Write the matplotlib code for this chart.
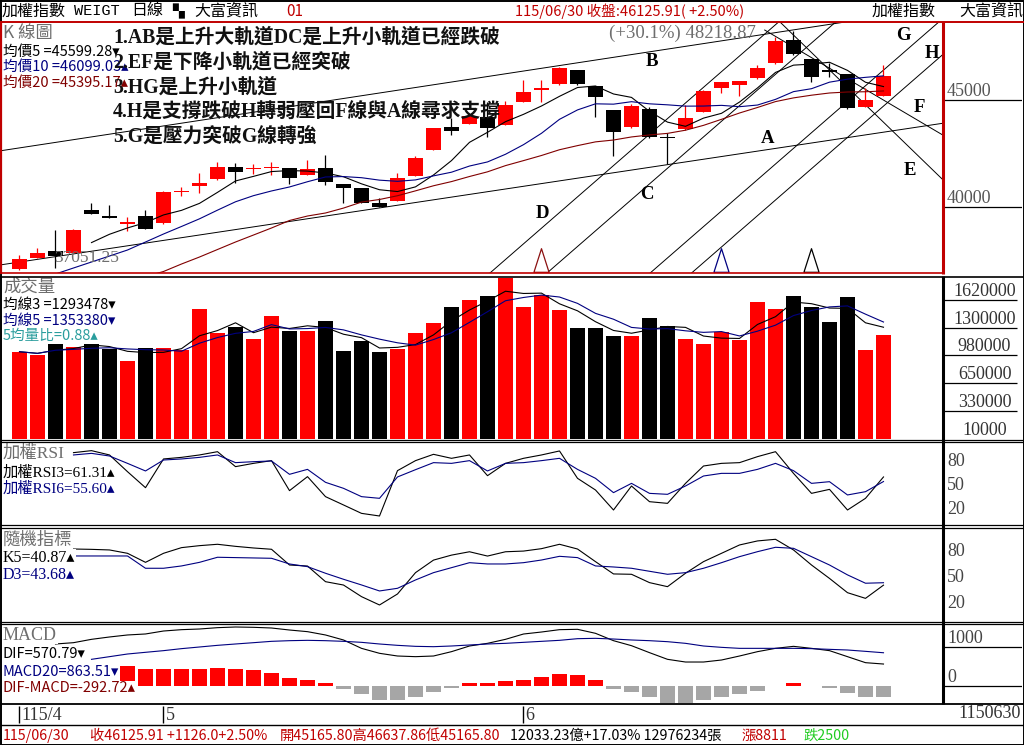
import numpy as np
import pandas as pd
import matplotlib
matplotlib.use("Agg")
import matplotlib.pyplot as plt
from matplotlib.path import Path
from matplotlib.transforms import blended_transform_factory

W, H = 1024, 745
CJK = ['Noto Sans CJK TC', 'DejaVu Sans']
SERIF = ['Liberation Serif', 'Noto Sans CJK TC', 'DejaVu Sans']
MONO = ['Liberation Mono', 'DejaVu Sans Mono']

RED = '#ff0000'
NAVY = '#000080'
MAROON = '#800000'
FRAME_RED = '#c00000'
GREY_TXT = '#6e6e6e'
HIST_GREY = '#a6a6a6'
TEAL = '#2a9d9d'

# ---------------- data ----------------
opens = [37090, 37631, 37944, 37864, 39860, 39518, 39191, 39579, 39238, 40700,
         40995, 41294, 41855, 41760, 41820, 41808, 41495, 41808, 41075, 40874,
         40201, 40280, 41448, 42664, 43752, 43878, 44220, 43832, 44921, 45490,
         45734, 46402, 45654, 44533, 43724, 44579, 43230, 43631, 44453, 45547,
         45701, 46014, 46715, 47804, 46902, 46330, 46215, 44659, 45165.80]
highs = [37757, 38070, 38925, 38950, 40201, 40093, 39518, 39860, 40760, 40949,
         41575, 42117, 42042, 42009, 42117, 41820, 42196, 42430, 41080, 40880,
         40406, 41575, 42383, 43700, 44145, 44280, 44921, 44953, 45935, 45935,
         46530, 46420, 45670, 44550, 44813, 44659, 43444, 44766, 45460, 45860,
         45900, 46636, 47930, 48218.87, 46920, 46743, 46230, 45547, 46637.86]
lows = [37051.25, 37600, 37135, 37850, 39650, 39490, 38892, 38950, 39220, 40514,
        40640, 41280, 41135, 41542, 41495, 41061, 41480, 41028, 40201, 40190,
        39980, 40270, 41440, 42650, 43364, 43860, 43257, 43820, 44900, 44921,
        45720, 45720, 44220, 42383, 43710, 43240, 42009, 43620, 44440, 45313,
        45187, 46000, 46700, 47120, 45855, 46089, 44600, 44650, 45165.80]
closes = [37556, 37836, 37710, 38925, 39659, 39500, 39313, 38958, 40715, 40730,
          41135, 41883, 41621, 41790, 41850, 41369, 41762, 41182, 40902, 40201,
          39986, 41341, 42276, 43678, 43565, 44252, 43678, 44766, 45388, 45520,
          46509, 45734, 45126, 43519, 44720, 43257, 43210, 44145, 45435, 45841,
          45888, 46509, 47771, 47136, 46089, 46310, 44612, 44999.91, 46125.91]
volumes = [1019000, 980800, 1108700, 1077300, 1108700, 1050600, 911100, 1065700, 1058700, 1039000,
           1515400, 1240000, 1309700, 1170300, 1434100, 1263200, 1263200, 1376000, 1027300, 1143500,
           1015700, 1050600, 1240000, 1352700, 1538700, 1620000, 1666500, 1879200, 1542200, 1678200,
           1507300, 1298100, 1298100, 1201700, 1201700, 1414300, 1321400, 1170300, 1112200, 1248100,
           1158700, 1600300, 1518900, 1670000, 1542200, 1367800, 1658400, 1039000, 1213300]
# moving-average values before enough history exists in the window
ma10_head = [36500, 36700, 36870, 37150, 37430, 37710, 37990, 38364, 38738]
ma20_head = [35300, 35500, 35700, 35900, 36100, 36300, 36500, 36750, 36986, 37336,
             37663, 38014, 38364, 38691, 39019, 39370, 39579, 39720, 39950]
rsi_start = 3
rsi3 = [91.7, 94.2, 88.8, 67.9, 47.9, 83.8, 85.8, 88.8, 92.9, 74.2, 78.3, 81.7, 44.2, 61.7,
        36.7, 26.3, 15.8, 12.5, 69.2, 81.7, 89.6, 84.6, 88.8, 62.9, 78.3, 84.6, 88.8, 93.8,
        59.6, 45.0, 20.0, 50.0, 30.4, 28.3, 53.3, 75.0, 78.3, 79.2, 86.7, 92.9, 65.8, 40.8,
        45.8, 20.0, 34.6, 61.31]
rsi6 = [88.8, 90.8, 87.5, 78.3, 68.8, 82.5, 83.8, 85.8, 88.8, 79.2, 80.4, 81.3, 64.6, 70.8,
        54.6, 47.1, 36.7, 34.6, 61.3, 70.4, 79.2, 78.3, 81.7, 68.8, 78.3, 79.2, 81.7, 84.6,
        70.8, 59.6, 41.7, 53.3, 40.8, 39.6, 50.0, 62.5, 65.8, 65.8, 70.8, 78.3, 69.2, 53.3,
        55.4, 38.8, 42.9, 55.60]
kd_start = 3
k5 = [82.9, 82.5, 81.8, 77.9, 67.4, 77.9, 84.5, 86.8, 88.4, 86.0, 84.1, 82.6, 64.3, 63.1,
      44.9, 41.0, 27.5, 17.8, 30.6, 55.4, 70.0, 75.8, 79.7, 74.7, 79.7, 80.5, 83.3, 88.4,
      82.9, 68.2, 53.9, 53.5, 43.8, 39.1, 54.7, 68.2, 77.9, 87.6, 92.3, 94.2, 81.8, 64.3,
      48.7, 32.1, 25.5, 40.87]
d3 = [74.8, 74.8, 74.8, 74.8, 60.5, 60.5, 63.2, 67.4, 73.3, 72.9, 72.5, 72.1, 65.5, 62.4,
      54.7, 47.7, 41.1, 34.1, 37.2, 46.9, 55.4, 61.2, 67.0, 65.5, 65.5, 67.0, 70.1, 74.4,
      72.9, 63.2, 62.0, 60.5, 57.0, 53.5, 55.4, 60.5, 67.0, 74.0, 79.8, 84.9, 83.7, 74.0,
      64.3, 52.8, 43.1, 43.68]
dif_start = 2
dif = [1091, 1125, 1212, 1273, 1325, 1351, 1428, 1463, 1480, 1515, 1532, 1524, 1506, 1454,
       1411, 1325, 1195, 978, 849, 779, 762, 779, 892, 1039, 1108, 1212, 1350, 1402, 1463,
       1472, 1368, 1177, 1047, 866, 693, 623, 623, 675, 779, 892, 978, 1030, 978, 918, 762,
       606, 570.79]
macd_start = 4
macd20 = [693, 762, 831, 875, 918, 970, 1013, 1056, 1091, 1125, 1160, 1177, 1186, 1177,
          1160, 1134, 1091, 1056, 1030, 1021, 1039, 1065, 1091, 1108, 1134, 1160, 1186, 1229,
          1238, 1220, 1195, 1177, 1151, 1108, 1039, 1004, 978, 978, 978, 978, 970, 952, 935,
          900, 863.51]
osc_start = 6
osc = [520, 442, 442, 442, 442, 459, 442, 416, 346, 199, 156, 69, -69, -208, -364, -364,
       -277, -147, -61, 69, 69, 130, 156, 225, 312, 286, 156, -69, -147, -277, -433, -433,
       -364, -277, -208, -121, 0, 69, 0, -43, -190, -294, -292.72]

month_ticks = [0, 8, 28]
month_labels = ['115/4', '5', '6']
signal_days = [29, 39, 44]
signal_colors = ['#8b1010', NAVY, 'black']
price_ticks = [45000, 40000]
vol_ticks = [1620000, 1300000, 980000, 650000, 330000]
vol_tick_labels = ['1620000', '1300000', '980000', '650000', '330000', '10000']
osc_ticks = [80, 50, 20]
macd_ticks = [1000, 0]

# hand-drawn trend lines (bar index, price) endpoints
trend_lines = [
    ((-2.2, 37150), (52.3, 44040)),   # A
    ((-2.2, 42480), (52.3, 49470)),   # B
    ((25.5, 36450), (43.0, 49250)),   # D
    ((28.67, 36450), (46.17, 49250)), # C
    ((34.4, 36450), (51.9, 49250)),   # G
    ((36.7, 36450), (54.2, 49250)),   # H
    ((41.9, 48930), (51.5, 41110)),   # E
    ((41.4, 48270), (51.3, 43360)),   # F
]
line_letters = ['A', 'B', 'C', 'D', 'E', 'F', 'G', 'H']
letter_pos = [(41.58, 43224), (35.14, 46776), (34.86, 40561), (29.03, 39719),
              (49.47, 41729), (49.97, 44673), (49.08, 48037), (50.69, 47196)]

notes = ['1.AB是上升大軌道DC是上升小軌道已經跌破',
         '2.EF是下降小軌道已經突破',
         '3.HG是上升小軌道',
         '4.H是支撐跌破H轉弱壓回F線與A線尋求支撐',
         '5.G是壓力突破G線轉強']

# ---------------- derived ----------------
n = len(closes)
idx = np.arange(n)
cs = pd.Series(closes)
ma5 = cs.rolling(5).mean().to_numpy()
ma10 = cs.rolling(10).mean().to_numpy()
ma10[:len(ma10_head)] = ma10_head
ma20 = cs.rolling(20).mean().to_numpy()
ma20[:len(ma20_head)] = ma20_head
vs = pd.Series(volumes)
vma3 = vs.rolling(3, min_periods=1).mean().to_numpy()
vma5 = vs.rolling(5, min_periods=1).mean().to_numpy()
cols = [RED if c >= o else 'black' for o, c in zip(opens, closes)]

# ---------------- figure ----------------
fig = plt.figure(figsize=(W / 100, H / 100), dpi=100)
fig.patch.set_facecolor('white')


def px_axes(x0, y0, x1, y1, z=1):
    ax = fig.add_axes([x0 / W, 1 - y1 / H, (x1 - x0) / W, (y1 - y0) / H])
    ax.set_zorder(z)
    ax.axis('off')
    ax.patch.set_alpha(0)
    return ax


XL = ((2 - 19.5) / 18, (943 - 19.5) / 18)
BW = 15 / 18

# K panel
kax = px_axes(2, 22, 943, 273)
kax.set_xlim(*XL)
kax.set_ylim(36916, 48645)
for (p0, p1) in trend_lines:
    kax.plot([p0[0], p1[0]], [p0[1], p1[1]], color='black', lw=0.7, zorder=1)
kax.vlines(idx, lows, highs, colors=cols, lw=0.9, zorder=3)
lo = np.minimum(opens, closes)
hgt = np.maximum(np.abs(np.array(closes) - np.array(opens)), 70)
kax.bar(idx, hgt, bottom=lo, width=BW, color=cols, lw=0, zorder=4)
kax.plot(idx, ma5, color='black', lw=0.8, zorder=5)
kax.plot(idx, ma10, color=NAVY, lw=0.8, zorder=5)
kax.plot(idx, ma20, color=MAROON, lw=0.8, zorder=5)
for lt, (li, lp) in zip(line_letters, letter_pos):
    kax.text(li, lp, lt, family=SERIF, weight='bold', size=13.5, ha='center', va='center', zorder=6)
imax = int(np.argmax(highs))
imin = int(np.argmin(lows))
kax.text(imax - 2.1, highs[imax] - 90, '(+%.1f%%) %.2f' % ((highs[imax] / lows[imin] - 1) * 100, highs[imax]),
         family=SERIF, size=13.5, color=GREY_TXT, ha='right', va='center', zorder=6)
kax.text(imin + 1.9, lows[imin] + 560, '%.2f' % lows[imin], family=SERIF, size=12.5,
         color=GREY_TXT, ha='left', va='center', zorder=6)
tri = Path([(-0.32, -0.5), (0.0, 0.5), (0.32, -0.5), (-0.32, -0.5)],
           [Path.MOVETO, Path.LINETO, Path.LINETO, Path.CLOSEPOLY])
bt = blended_transform_factory(kax.transData, kax.transAxes)
for d, c in zip(signal_days, signal_colors):
    kax.plot([d], [0.05], marker=tri, ms=17, mfc='white', mec=c, mew=0.9,
             transform=bt, zorder=6, clip_on=False)

# volume panel
vax = px_axes(2, 276, 943, 440)
vax.set_xlim(*XL)
vax.set_ylim(-7038, 1898970)
vax.bar(idx, volumes, width=BW, color=cols, lw=0)
vax.plot(idx, vma3, color='black', lw=0.8)
vax.plot(idx, vma5, color=NAVY, lw=0.8)

# RSI panel
rax = px_axes(2, 443, 943, 525)
rax.set_xlim(*XL)
rax.set_ylim(1.25, 103.75)
ri = np.arange(rsi_start, rsi_start + len(rsi3))
rax.plot(ri, rsi3, color='black', lw=0.8)
rax.plot(ri, rsi6, color=NAVY, lw=0.8)

# KD panel
dax = px_axes(2, 527, 943, 622)
dax.set_xlim(*XL)
dax.set_ylim(-2.0, 108.5)
ki = np.arange(kd_start, kd_start + len(k5))
dax.plot(ki, k5, color='black', lw=0.8)
dax.plot(ki, d3, color=NAVY, lw=0.8)

# MACD panel
max_ = px_axes(2, 624, 943, 703)
max_.set_xlim(*XL)
max_.set_ylim(-441, 1610)
oi = np.arange(osc_start, osc_start + len(osc))
max_.bar(oi, osc, width=BW * 0.98, color=[RED if v > 0 else HIST_GREY for v in osc], lw=0)
max_.plot(np.arange(dif_start, dif_start + len(dif)), dif, color='black', lw=0.8)
max_.plot(np.arange(macd_start, macd_start + len(macd20)), macd20, color=NAVY, lw=0.8)

# date axis row
tax = px_axes(2, 703, 943, 725)
tax.set_xlim(*XL)
tax.set_ylim(0, 1)
tax.vlines(month_ticks, 0.1, 0.85, color='black', lw=1)
for t, lab in zip(month_ticks, month_labels):
    tax.text(t + 0.12, 0.45, lab, family=SERIF, size=13, color='#333333', va='center', ha='left')

# right-hand scale areas
def right_axes(y0, y1, ylim):
    ax = px_axes(944, y0, 1022, y1, z=2)
    ax.set_xlim(0, 1)
    ax.set_ylim(*ylim)
    return ax

rk = right_axes(22, 273, (36916, 48645))
for v in price_ticks:
    rk.hlines(v, 0, 1, color='black', lw=0.9)
    rk.annotate(str(v), (0.04, v), xytext=(0, 0), textcoords='offset points', family=SERIF,
                size=13, color='#555555', va='bottom', ha='left')
rv = right_axes(276, 440, (-7038, 1898970))
for v in vol_ticks:
    rv.hlines(v, 0, 0.94, color='black', lw=0.9)
for v, lab in zip(vol_ticks + [10000], vol_tick_labels):
    rv.annotate(lab, (0.52, v), xytext=(0, 0), textcoords='offset points', family=SERIF,
                size=13, color='#333333', va='bottom', ha='center')
rr = right_axes(443, 525, (1.25, 103.75))
for v in osc_ticks:
    rr.text(0.04, v, str(v), family=SERIF, size=13, color='#444444', va='center', ha='left')
rd = right_axes(527, 622, (-2.0, 108.5))
for v in osc_ticks:
    rd.text(0.04, v, str(v), family=SERIF, size=13, color='#444444', va='center', ha='left')
rm = right_axes(624, 703, (-441, 1610))
for v in macd_ticks:
    rm.hlines(v, 0, 1, color='black', lw=0.9)
    rm.annotate(str(v), (0.04, v), xytext=(0, 0), textcoords='offset points', family=SERIF,
                size=13, color='#444444', va='bottom', ha='left')

# ---------------- overlay: frames and texts (pixel coordinates) ----------------
ov = fig.add_axes([0, 0, 1, 1])
ov.set_xlim(0, W)
ov.set_ylim(H, 0)
ov.axis('off')
ov.patch.set_alpha(0)
ov.set_zorder(10)

LZ = 6
ov.plot([0.5, W - 0.5, W - 0.5, 0.5, 0.5], [0.5, 0.5, H - 0.5, H - 0.5, 0.5], color='black', lw=1.4, zorder=LZ)
ov.hlines(21.5, 0, W, color=FRAME_RED, lw=1.4, zorder=LZ)
ov.vlines(1.0, 22, 273.5, color=FRAME_RED, lw=1.6, zorder=LZ)
ov.vlines(942.5, 22, 273.5, color=FRAME_RED, lw=2.2, zorder=LZ)
ov.hlines(273.3, 0, 943, color=FRAME_RED, lw=1.2, zorder=LZ)
ov.hlines(276.5, 0, W, color='black', lw=1.2, zorder=LZ)
for yy in (439.5, 442.3, 525.3, 527.6, 621.9, 624.2):
    ov.hlines(yy, 0, W, color='black', lw=0.9, zorder=LZ)
ov.hlines(703.8, 0, W, color='black', lw=1.3, zorder=LZ)
ov.hlines(725.3, 0, W, color='black', lw=1.0, zorder=LZ)
ov.vlines(942.5, 276, 704, color='black', lw=2.2, zorder=LZ)

# header
ov.text(2, 11, '加權指數', family=CJK, size=11.5, va='center')
ov.text(74, 11, 'WEIGT', family=MONO, size=11, va='center')
ov.text(131, 11, '日線', family=CJK, size=11.5, va='center')
ov.text(172, 11, '▚', family=['DejaVu Sans'], size=11, va='center')
ov.text(194, 11, '大富資訊', family=CJK, size=11.5, va='center')
ov.text(286, 11, '01', family=CJK, size=11, va='center', color='#c00000')
ov.text(515, 11, '115/06/30 收盤:46125.91( +2.50%)', family=CJK, size=10.5, va='center', color='#c00000')
ov.text(872, 11, '加權指數', family=CJK, size=11.5, va='center')
ov.text(959, 11, '大富資訊', family=CJK, size=11.5, va='center')

# K panel legends and notes
ov.text(3, 33, 'K 線圖', family=CJK, size=12.5, color=GREY_TXT, va='center')
ov.text(3, 51.5, '均價5 =45599.28▾', family=CJK, size=10.5, color='black', va='center')
ov.text(3, 66.5, '均價10 =46099.03▴', family=CJK, size=10.5, color=NAVY, va='center')
ov.text(3, 82.5, '均價20 =45395.17▴', family=CJK, size=10.5, color=MAROON, va='center')
for k, s in enumerate(notes):
    ov.text(113, 38 + 25 * k, s, family=SERIF, size=14.2, weight='bold', color='#111111', va='center', zorder=3)

BB = dict(facecolor='white', edgecolor='none', pad=0.6)
# volume legends
ov.text(3, 287, '成交量', family=CJK, size=12.5, color=GREY_TXT, va='center', bbox=BB)
ov.text(3, 305, '均線3 =1293478▾', family=CJK, size=10.5, color='black', va='center', bbox=BB)
ov.text(3, 320.5, '均線5 =1353380▾', family=CJK, size=10.5, color=NAVY, va='center', bbox=BB)
ov.text(3, 336, '5均量比=0.88▴', family=CJK, size=10.5, color=TEAL, va='center', bbox=BB)
# RSI legends
ov.text(3, 454, '加權RSI', family=SERIF, size=12.5, color=GREY_TXT, va='center', bbox=BB)
ov.text(3, 472.5, '加權RSI3=61.31▴', family=SERIF, size=11, color='black', va='center', bbox=BB)
ov.text(3, 489, '加權RSI6=55.60▴', family=SERIF, size=11, color=NAVY, va='center', bbox=BB)
# KD legends
ov.text(3, 539.5, '隨機指標', family=CJK, size=12.5, color=GREY_TXT, va='center', bbox=BB)
ov.text(3, 557.5, 'K5=40.87▴', family=SERIF, size=11.5, color='black', va='center', bbox=BB)
ov.text(3, 575, 'D3=43.68▴', family=SERIF, size=11.5, color=NAVY, va='center', bbox=BB)
# MACD legends
ov.text(3, 635, 'MACD', family=SERIF, size=13, color=GREY_TXT, va='center', bbox=BB)
ov.text(3, 653.5, 'DIF=570.79▾', family=CJK, size=10.5, color='black', va='center', bbox=BB)
ov.text(3, 671.5, 'MACD20=863.51▾', family=CJK, size=10.5, color=NAVY, va='center', bbox=BB)
ov.text(3, 688.5, 'DIF-MACD=-292.72▴', family=CJK, size=10.5, color=MAROON, va='center', bbox=BB)

# date row right label
ov.text(1021, 714, '1150630', family=SERIF, size=13, color='#333333', va='center', ha='right')

# bottom info row
ov.text(3, 736, '115/06/30', family=CJK, size=10.3, color='#c00000', va='center')
ov.text(90, 736, '收46125.91 +1126.0+2.50%', family=CJK, size=10.3, color='#c00000', va='center')
ov.text(280, 736, '開45165.80高46637.86低45165.80', family=CJK, size=10.3, color='#c00000', va='center')
ov.text(510, 736, '12033.23億+17.03% 12976234張', family=CJK, size=10.3, color='black', va='center')
ov.text(741, 736, '漲8811', family=CJK, size=10.3, color='#c00000', va='center')
ov.text(803, 736, '跌2500', family=CJK, size=10.3, color='#22cc22', va='center')

fig.savefig('out.png', dpi=100, facecolor='white')
